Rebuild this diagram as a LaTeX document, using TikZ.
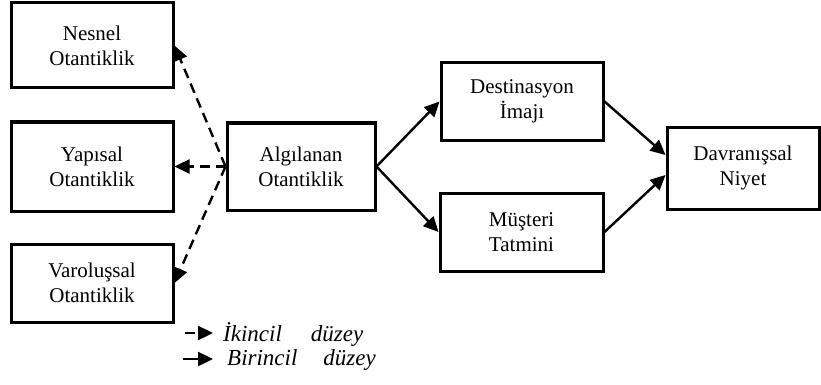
\documentclass[tikz,border=0pt]{standalone}
\usepackage{fontspec}
\setmainfont{Liberation Serif}
\usetikzlibrary{arrows.meta}

\begin{document}
\begin{tikzpicture}[x=1pt, y=-1pt,
    kutu/.style={draw, line width=3pt, align=center, inner sep=0pt,
        font=\fontsize{21}{25}\selectfont},
    birincil/.style={-{Triangle[length=15pt, width=14pt]}, line width=2.4pt},
    ikincil/.style={birincil, dash pattern=on 10pt off 6pt},
    aciklama/.style={anchor=west, inner sep=0pt,
        font=\fontsize{23}{27}\selectfont\itshape}
]
\useasboundingbox (0,0) rectangle (821,385);
\node[kutu, minimum width=162pt, minimum height=85pt] (nesnel) at (92,45.5)
    {Nesnel\\Otantiklik};
\node[kutu, minimum width=162pt, minimum height=89pt] (yapisal) at (92,166.5)
    {Yapısal\\Otantiklik};
\node[kutu, minimum width=162pt, minimum height=78pt] (varolus) at (92,283)
    {Varoluşsal\\Otantiklik};
\node[kutu, minimum width=148pt, minimum height=87pt] (algi) at (301,166.5)
    {Algılanan\\Otantiklik};
\node[kutu, minimum width=162pt, minimum height=77pt] (imaj) at (522,101.5)
    {Destinasyon\\İmajı};
\node[kutu, minimum width=163pt, minimum height=78pt] (tatmin) at (521.5,232)
    {Müşteri\\Tatmini};
\node[kutu, minimum width=152pt, minimum height=82pt] (niyet) at (743,168)
    {Davranışsal\\Niyet};
\draw[ikincil] (algi.west) -- (nesnel.east); \draw[ikincil] (algi.west) -- (yapisal.east);
\draw[ikincil] (algi.west) -- (varolus.east);
\draw[birincil] (algi.east) -- (imaj.west); \draw[birincil] (algi.east) -- (tatmin.west);
\draw[birincil] (imaj.east) -- ([yshift=13pt]niyet.west);
\draw[birincil] (tatmin.east) -- ([yshift=-7pt]niyet.west);
% legend
\coordinate (ik1) at (185,333); \coordinate (ik2) at (213,333);
\coordinate (bi1) at (183,359); \coordinate (bi2) at (213,359);
\draw[ikincil] (ik1) -- (ik2); \draw[birincil] (bi1) -- (bi2);
\node[aciklama] (ikyazi) at (223,334) {İkincil\hspace{29pt}düzey};
\node[aciklama] (biyazi) at (227,360) {Birincil\hspace{26pt}düzey};
\end{tikzpicture}
\end{document}
